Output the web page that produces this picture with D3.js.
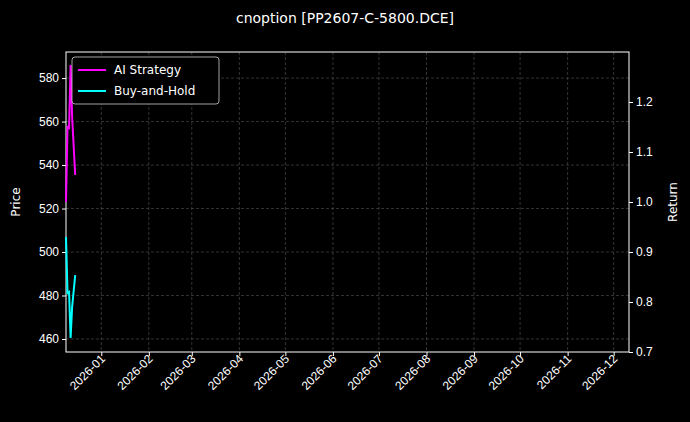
<!DOCTYPE html>
<html><head><meta charset="utf-8">
<script src="https://cdn.jsdelivr.net/npm/d3@7"></script>
<style>body{margin:0;background:#000}svg{font-family:"DejaVu Sans",sans-serif;color:#fff}</style>
</head><body><div id="chart"></div>
<script>
const dates = ["2025-12-09","2025-12-10","2025-12-11","2025-12-12","2025-12-13","2025-12-15"];
const strategyReturn = [1.0, 1.15, 1.148, 1.274, 1.17, 1.054];
const holdPrice = [506.9, 481.1, 481.6, 460.5, 474.7, 489.4];
const priceTicks = [460, 480, 500, 520, 540, 560, 580];
const returnTicks = [0.7, 0.8, 0.9, 1.0, 1.1, 1.2];

const W = 690, H = 422, m = {left: 66, right: 61, top: 52, bottom: 70};
const w = W - m.left - m.right, h = H - m.top - m.bottom;
const parse = d3.timeParse("%Y-%m-%d");
const data = dates.map((d, i) => ({date: parse(d), ret: strategyReturn[i], price: holdPrice[i]}));

const svg = d3.select("#chart").append("svg").attr("width", W).attr("height", H)
  .style("background", "#000");
const g = svg.append("g").attr("transform", `translate(${m.left},${m.top})`);

const x = d3.scaleTime().domain([parse("2025-12-09"), parse("2026-12-11")]).range([0, w]);
const yP = d3.scaleLinear().domain([454, 592]).range([h, 0]);
const yR = d3.scaleLinear().domain([0.7, 1.3]).range([h, 0]);
const months = d3.timeMonth.range(parse("2026-01-01"), parse("2026-12-02"));

// grid
g.append("g").selectAll("line").data(months).join("line")
  .attr("x1", d => x(d)).attr("x2", d => x(d)).attr("y1", 0).attr("y2", h);
g.append("g").selectAll("line").data(priceTicks).join("line")
  .attr("x1", 0).attr("x2", w).attr("y1", d => yP(d)).attr("y2", d => yP(d));
g.selectAll("g line").attr("stroke", "#555").attr("stroke-width", 0.6).attr("stroke-dasharray", "3,2");

const style = sel => { sel.selectAll("path.domain").remove(); sel.selectAll("line").attr("stroke", "#fff");
  sel.selectAll("text").attr("fill", "#ffffff").style("font-size", "12px"); };

g.append("g").attr("transform", `translate(0,${h})`)
  .call(d3.axisBottom(x).tickValues(months).tickFormat(d3.timeFormat("%Y-%m")).tickSize(4))
  .call(style)
  .selectAll("text").attr("text-anchor", "end").attr("dx", "-0.2em").attr("dy", "0.1em")
  .attr("transform", "rotate(-45)");
g.append("g").call(d3.axisLeft(yP).tickValues(priceTicks).tickSize(4)).call(style);
g.append("g").attr("transform", `translate(${w},0)`)
  .call(d3.axisRight(yR).tickValues(returnTicks).tickFormat(d3.format(".1f")).tickSize(4)).call(style);

g.append("rect").attr("width", w).attr("height", h).attr("fill", "none").attr("stroke", "#fff").attr("stroke-width", 1);

g.append("path").datum(data).attr("fill", "none").attr("stroke", "#ff00ff").attr("stroke-width", 2)
  .attr("d", d3.line().x(d => x(d.date)).y(d => yR(d.ret)));
g.append("path").datum(data).attr("fill", "none").attr("stroke", "#00ffff").attr("stroke-width", 2)
  .attr("d", d3.line().x(d => x(d.date)).y(d => yP(d.price)));

// labels
svg.append("text").attr("x", 345).attr("y", 23).attr("text-anchor", "middle").attr("fill", "#fff")
  .style("font-size", "14px").text("cnoption [PP2607-C-5800.DCE]");
svg.append("text").attr("transform", `translate(20,${m.top + h / 2}) rotate(-90)`).attr("text-anchor", "middle")
  .attr("fill", "#fff").style("font-size", "12px").text("Price");
svg.append("text").attr("transform", `translate(677,${m.top + h / 2}) rotate(-90)`).attr("text-anchor", "middle")
  .attr("fill", "#fff").style("font-size", "12px").text("Return");

// legend
const lg = svg.append("g").attr("transform", "translate(72,57)");
lg.append("rect").attr("width", 147).attr("height", 47).attr("rx", 3).attr("fill", "#000")
  .attr("stroke", "#ccc").attr("stroke-width", 0.8);
[["AI Strategy", "#ff00ff"], ["Buy-and-Hold", "#00ffff"]].forEach(([t, c], i) => {
  lg.append("line").attr("x1", 6).attr("x2", 34).attr("y1", 13 + i * 21).attr("y2", 13 + i * 21)
    .attr("stroke", c).attr("stroke-width", 2);
  lg.append("text").attr("x", 42).attr("y", 17 + i * 21).attr("fill", "#fff").style("font-size", "12px").text(t);
});
</script></body></html>
